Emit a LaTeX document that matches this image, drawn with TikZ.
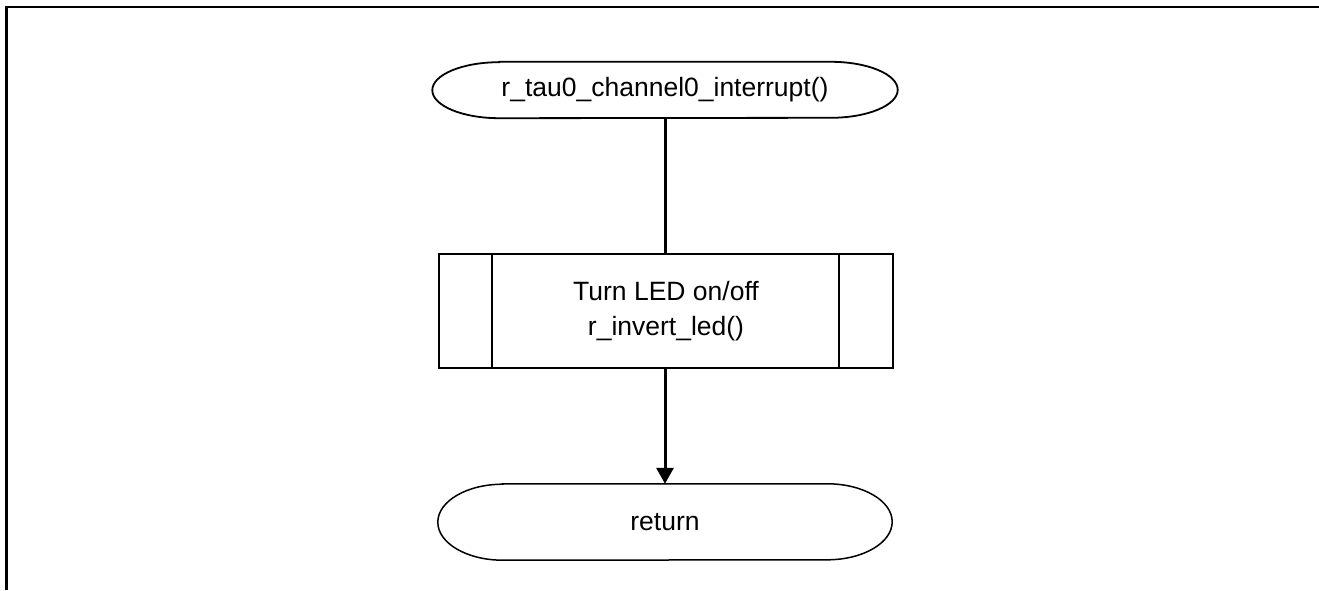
\documentclass[tikz,border=0pt]{standalone}
\usepackage{fontspec}
\setmainfont{Liberation Sans}
\usetikzlibrary{arrows.meta}
\begin{document}
\begin{tikzpicture}[x=1pt,y=1pt,
  txt/.style={font=\fontsize{26.5}{34.5}\selectfont, align=center, inner sep=0pt},
  termbox/.style={draw=none, minimum width=#1, inner sep=0pt},
  conn/.style={line width=3pt},
  arr/.style={line width=3pt, -{Triangle[length=16pt,width=17pt]}}
]
\useasboundingbox (0,0) rectangle (1319,590);
% frame
\draw[line width=2.3pt] (6.5,0) -- (6.5,583) -- (1319,583);
% start terminal
\node[termbox=465pt, minimum height=56pt] (start) at (665,500) {};
\draw[line width=1.8pt] ([xshift=67pt]start.north west) -- ([xshift=-67pt]start.north east)
  arc[start angle=90, end angle=-90, x radius=67pt, y radius=28pt]
  -- ([xshift=67pt]start.south west)
  arc[start angle=270, end angle=90, x radius=67pt, y radius=28pt] -- cycle;
\node[txt] (starttxt) at (start.center) {r\_tau0\_channel0\_interrupt()};
% process box
\node[draw, line width=1.8pt, minimum width=454pt, minimum height=114pt, inner sep=0pt] (proc) at (666,279) {};
\draw[line width=1.8pt] ([xshift=54pt]proc.north west) -- ([xshift=54pt]proc.south west);
\draw[line width=1.8pt] ([xshift=-55pt]proc.north east) -- ([xshift=-55pt]proc.south east);
\node[txt] (proctxt) at (proc.center) {Turn LED on/off\\r\_invert\_led()};
% return terminal
\node[termbox=454pt, minimum height=76pt] (ret) at (665,68) {};
\draw[line width=1.5pt] ([xshift=65pt]ret.north west) -- ([xshift=-65pt]ret.north east)
  arc[start angle=90, end angle=-90, x radius=65pt, y radius=38pt]
  -- ([xshift=65pt]ret.south west)
  arc[start angle=270, end angle=90, x radius=65pt, y radius=38pt] -- cycle;
\node[txt] (rettxt) at (ret.center) {return};
% connectors
\draw[conn] (start.south -| 665,0) -- (proc.north -| 665,0);
\draw[arr] (proc.south -| 665,0) -- (ret.north -| 665,0);
\end{tikzpicture}
\end{document}
